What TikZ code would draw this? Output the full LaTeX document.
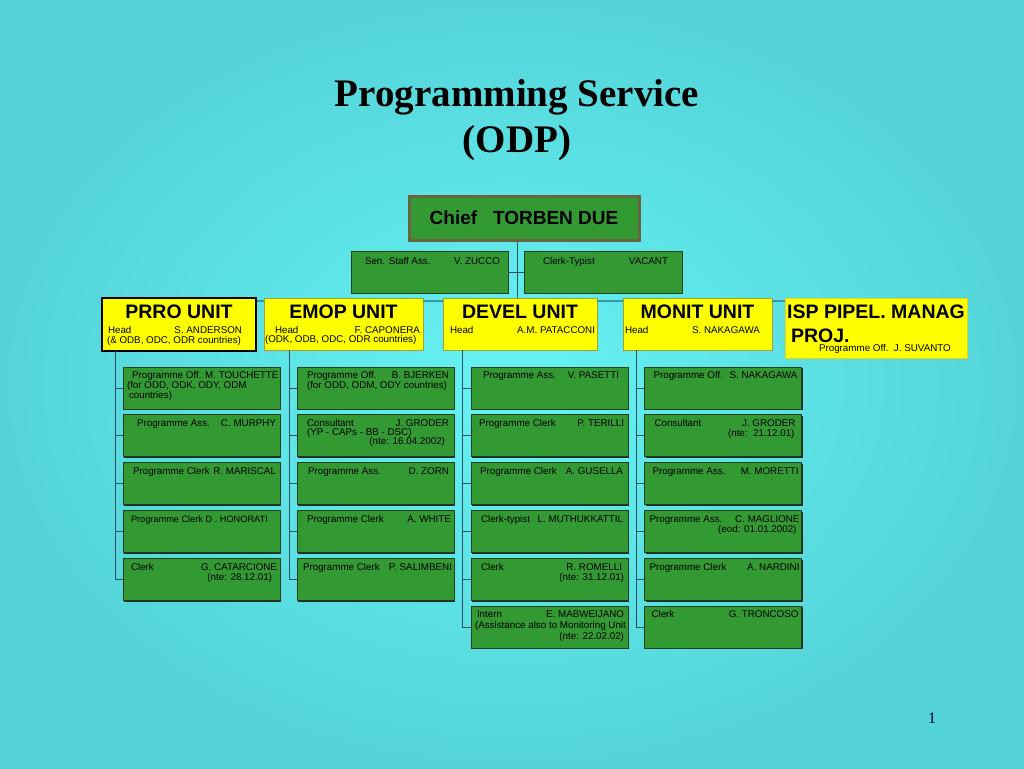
\documentclass[tikz,border=0pt]{standalone}
\usepackage{fontspec}
\setmainfont{Liberation Serif}
\setsansfont{Liberation Sans}
\usepackage{tikz}
\usetikzlibrary{shapes,shadows}
\usetikzlibrary{positioning}
\definecolor{odpgreen}{RGB}{51,153,51}
\definecolor{odpedge}{RGB}{30,60,30}
\definecolor{odpolive}{RGB}{105,100,62}
\definecolor{odpyellow}{RGB}{255,255,0}
\definecolor{unitedge}{RGB}{160,160,60}
\definecolor{odplink}{RGB}{40,80,100}
\definecolor{odpbar}{RGB}{55,150,170}
\definecolor{bginner}{RGB}{102,243,243}
\definecolor{bgouter}{RGB}{84,212,216}
\newcommand{\unitfont}{\sffamily\bfseries\fontsize{19.5}{24}\selectfont}
\newcommand{\smallfont}{\sffamily\fontsize{9.8}{10}\selectfont}
\newcommand{\lr}[4]{\hspace*{#1pt}\mbox{#3}\nobreak\hfill\mbox{#4}\hspace*{#2pt}}
\newcommand{\post}[1]{\parbox[c][42pt][t]{151pt}{\rule{0pt}{11.8pt}#1}}
\newcommand{\staff}[1]{\parbox[c][42pt][t]{151pt}{\rule{0pt}{13pt}#1}}
\newcommand{\unittext}[4]{\parbox[c][#1pt][t]{#2pt}{\rule{0pt}{20pt}\makebox[\linewidth]{\unitfont #3}\par\vspace{5.5pt}\smallfont #4}}
\tikzstyle{title}=[font=\bfseries\fontsize{39}{46}\selectfont, align=center, inner sep=0pt]
\tikzstyle{chief}=[draw=odpolive, line width=3pt, fill=odpgreen, inner sep=0pt,
                minimum width=230pt, minimum height=44pt, font=\sffamily\bfseries\fontsize{19}{22}\selectfont]
\tikzstyle{post}=[draw=odpedge, line width=0.7pt, fill=odpgreen, inner sep=0pt,
                minimum width=157pt, minimum height=42pt, font=\smallfont,
                drop shadow={shadow xshift=1.3pt, shadow yshift=-1.3pt, opacity=1, fill=black!85}]
\tikzstyle{unit}=[draw=unitedge, line width=0.5pt, fill=odpyellow, inner sep=0pt, font=\smallfont]
\tikzstyle{mainunit}=[unit, draw=black, line width=1.2pt,
                drop shadow={shadow xshift=1pt, shadow yshift=-1pt, opacity=1, fill=black!80}]
\tikzstyle{link}=[draw=odplink, line width=0.8pt]
\tikzstyle{bar}=[draw=odpbar, line width=1.2pt]

\begin{document}
\begin{tikzpicture}[x=1pt,y=-1pt]
\useasboundingbox (0,0) rectangle (1024,768);
\shade[inner color=bginner, outer color=bgouter] (0,0) rectangle (1024,768);

\node[title] (title) at (517,120) {Programming Service\\(ODP)};
\node[font=\fontsize{16}{18}\selectfont, text=black!85!blue] (page) at (932,718) {1};

\node[chief] (chief) at (524,218) {Chief\ \ \ TORBEN DUE};
\node[post] (staffA) at (429.5,272) {\staff{\lr{11}{5}{Sen. Staff Ass.}{V. ZUCCO}}};
\node[post, minimum width=158pt] (staffB) at (603,272) {\staff{\lr{15.5}{10.5}{Clerk-Typist}{VACANT}}};

% units
\node[mainunit, minimum width=154pt, minimum height=53pt] (prro) at (179,324.5)
  {\unittext{53}{154}{PRRO UNIT}{\lr{6}{14}{Head}{S. ANDERSON}\\\hspace*{5pt}\mbox{(\& ODB, ODC, ODR countries)}}};
\node[unit, minimum width=159pt, minimum height=52pt] (emop) at (343.5,324)
  {\unittext{52}{159}{EMOP UNIT}{\lr{11}{3}{Head}{F. CAPONERA}\\[-1pt]\hspace*{1pt}\mbox{(ODK, ODB, ODC, ODR countries)}}};
\node[unit, minimum width=154pt, minimum height=52pt] (devel) at (520,324)
  {\unittext{52}{154}{DEVEL UNIT}{\lr{7}{2}{Head}{A.M. PATACCONI}}};
\node[unit, minimum width=149pt, minimum height=52pt] (monit) at (697.5,324)
  {\unittext{52}{149}{MONIT UNIT}{\lr{2}{12}{Head}{S. NAKAGAWA}}};
\node[unit, draw=yellow!85!black, line width=0.3pt, minimum width=182pt, minimum height=60pt] (isp) at (876,328)
  {\parbox[c][60pt][t]{182pt}{{\unitfont\rule{0pt}{20pt}\makebox[\linewidth]{ISP PIPEL. MANAG}\\\hspace*{6pt}PROJ.\par}%
   \smallfont\vspace{-1pt}\hspace*{34pt}\mbox{Programme Off.\ \ J. SUVANTO}}};

% PRRO posts
\node[post] (prro1) at (201.5,388) {\post{\hspace*{6pt}\mbox{Programme Off. M. TOUCHETTE}\\\hspace*{1pt}\mbox{(for ODD, ODK, ODY, ODM}\\\hspace*{3pt}countries)}};
\node[post] (prro2) at (201.5,435.8) {\post{\lr{11}{1}{Programme Ass.}{C. MURPHY}}};
\node[post] (prro3) at (201.5,483.6) {\post{\lr{7}{1}{Programme Clerk}{R. MARISCAL}}};
\node[post] (prro4) at (201.5,531.4) {\post{\hspace*{5pt}\mbox{\fontsize{9.2}{10}\selectfont Programme Clerk D . HONORATI}}};
\node[post] (prro5) at (201.5,579.2) {\post{\lr{5}{0}{Clerk}{G. CATARCIONE}\\\lr{0}{5}{}{(nte: 28.12.01)}}};

% EMOP posts
\node[post] (emop1) at (375.5,388) {\post{\lr{7}{2}{Programme Off.}{B. BJERKEN}\\\hspace*{7pt}\mbox{(for ODD, ODM, ODY countries)}}};
\node[post] (emop2) at (375.5,435.8) {\post{\lr{7}{2}{Consultant}{J. GRODER}\\[-1pt]\hspace*{7pt}\mbox{(YP - CAPs - BB - DSC)}\\[-1pt]\lr{0}{6}{}{(nte: 16.04.2002)}}};
\node[post] (emop3) at (375.5,483.6) {\post{\lr{8}{2}{Programme Ass.}{D. ZORN}}};
\node[post] (emop4) at (375.5,531.4) {\post{\lr{7}{0}{Programme Clerk}{A. WHITE}}};
\node[post] (emop5) at (375.5,579.2) {\post{\lr{3}{-1}{Programme Clerk}{P. SALIMBENI}}};

% DEVEL posts
\node[post] (devel1) at (549.5,388) {\post{\lr{9}{6}{Programme Ass.}{V. PASETTI}}};
\node[post] (devel2) at (549.5,435.8) {\post{\lr{5}{1}{Programme Clerk}{P. TERILLI}}};
\node[post] (devel3) at (549.5,483.6) {\post{\lr{6}{2}{Programme Clerk}{A. GUSELLA}}};
\node[post] (devel4) at (549.5,531.4) {\post{\lr{7}{2}{Clerk-typist}{L. MUTHUKKATTIL}}};
\node[post] (devel5) at (549.5,579.2) {\post{\lr{7}{3}{Clerk}{R. ROMELLI}\\\lr{0}{1}{}{(nte: 31.12.01)}}};
\node[post] (devel6) at (549.5,627) {\post{\lr{3}{1}{Intern}{E. MABWEIJANO}\\[1pt]\hspace*{1pt}\mbox{(Assistance also to Monitoring Unit}\\[1pt]\lr{0}{1}{}{(nte: 22.02.02)}}};

% MONIT posts
\node[post] (monit1) at (723,388) {\post{\lr{6}{1}{Programme Off.}{S. NAKAGAWA}}};
\node[post] (monit2) at (723,435.8) {\post{\lr{7}{3}{Consultant}{J. GRODER}\\\lr{0}{4}{}{(nte:\ \ 21.12.01)}}};
\node[post] (monit3) at (723,483.6) {\post{\lr{5}{0}{Programme Ass.}{M. MORETTI}}};
\node[post] (monit4) at (723,531.4) {\post{\lr{2}{-1}{Programme Ass.}{C. MAGLIONE}\\\lr{0}{2}{}{(eod: 01.01.2002)}}};
\node[post] (monit5) at (723,579.2) {\post{\lr{2}{-1}{Programme Clerk}{A. NARDINI}}};
\node[post] (monit6) at (723,627) {\post{\lr{4}{0}{Clerk}{G. TRONCOSO}}};

% connectors
\coordinate (spine) at (517,0);
\coordinate (row) at (0,301);
\draw[link] (chief.south -| spine) -- (devel.north -| spine);
\draw[link] (staffA) -- (staffB);
\draw[bar] (prro.east |- row) -- (emop.west |- row);
\draw[bar] (emop.east |- row) -- (devel.west |- row);
\draw[bar] (devel.east |- row) -- (monit.west |- row);
\draw[bar] (monit.east |- row) -- (isp.west |- row);

\coordinate (sprro) at (115,351);
\coordinate (semop) at (289,350);
\coordinate (sdevel) at (462,350);
\coordinate (smonit) at (636,350);
\foreach \r in {1,...,5} {
  \draw[link] (sprro) |- (prro\r.west);
  \draw[link] (semop) |- (emop\r.west);
}
\foreach \r in {1,...,6} {
  \draw[link] (sdevel) |- (devel\r.west);
  \draw[link] (smonit) |- (monit\r.west);
}
\end{tikzpicture}
\end{document}
